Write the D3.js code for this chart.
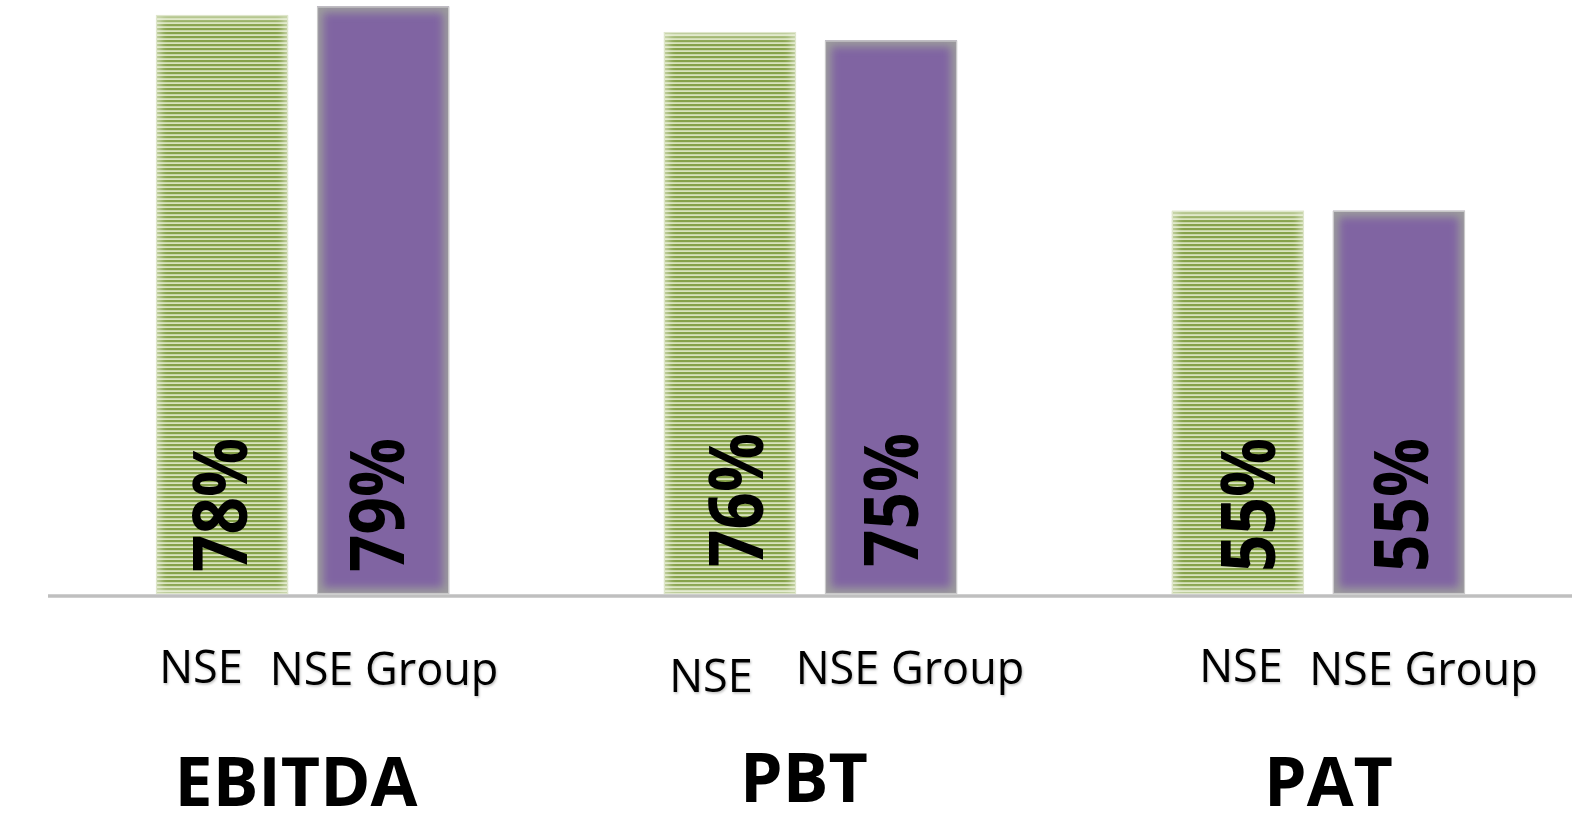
<!DOCTYPE html>
<html>
<head>
<meta charset="utf-8">
<script src="https://cdn.jsdelivr.net/npm/d3@7/dist/d3.min.js"></script>
<style>
  html, body { margin: 0; padding: 0; background: #ffffff; }
  svg { display: block; }
</style>
</head>
<body>
<svg id="chart" width="1589" height="827"></svg>
<script>
// ---------------- data ----------------
const categories = ["EBITDA", "PBT", "PAT"];
const seriesNames = ["NSE", "NSE Group"];
const nseValues = [78, 76, 55];
const nseGroupValues = [79, 75, 55];
const valueLabels = [["78%", "79%"], ["76%", "75%"], ["55%", "55%"]];

// ---------------- layout (not data) ----------------
const W = 1589, H = 827;
const baselineY = 594;
// per-label nudges relative to bar / group centre (the source placed them by hand)
const valueLabelDx = [[25, 20.5], [33.5, 27], [37, 29]];
const valueLabelY  = [[572, 572], [567, 567], [572, 572]];
const seriesLabelDx = [[-21, 1], [-19, 19], [3, 24.5]];
const seriesLabelY  = [[683, 685], [692, 684], [682, 685]];
const catLabelDx = [-6.5, -6.5, 10];
const catLabelY  = [806, 802, 806];

const svg = d3.select("#chart");
const defs = svg.append("defs");

// green horizontal stripe pattern
const pat = defs.append("pattern")
  .attr("id", "stripes").attr("patternUnits", "userSpaceOnUse")
  .attr("width", 8).attr("height", 4);
pat.append("rect").attr("width", 8).attr("height", 4).attr("fill", "#d9e3bd");
pat.append("rect").attr("y", 0).attr("width", 8).attr("height", 2.2).attr("fill", "#86a24a");

const blur = defs.append("filter").attr("id", "glowBlur")
  .attr("x", "-20%").attr("y", "-20%").attr("width", "140%").attr("height", "140%");
blur.append("feGaussianBlur").attr("stdDeviation", 4);

const txtShadow = defs.append("filter").attr("id", "txtShadow")
  .attr("x", "-10%").attr("y", "-20%").attr("width", "120%").attr("height", "150%");
txtShadow.append("feDropShadow").attr("dx", 1).attr("dy", 1.5).attr("stdDeviation", 1.2)
  .attr("flood-color", "#000").attr("flood-opacity", 0.25);

// ---------------- scales ----------------
const x0 = d3.scaleBand().domain(categories).range([156, 1465])
  .paddingInner(0.423).paddingOuter(0);
const x1 = d3.scaleBand().domain(seriesNames).range([0, x0.bandwidth()])
  .paddingInner(0.18).paddingOuter(0);
const y = d3.scaleLinear().domain([10, 80]).range([baselineY, -2]);

const rows = categories.map((c, i) => ({
  cat: c, i,
  bars: [
    { s: seriesNames[0], v: nseValues[i], label: valueLabels[i][0], j: 0 },
    { s: seriesNames[1], v: nseGroupValues[i], label: valueLabels[i][1], j: 1 }
  ]
}));

const fills = ["url(#stripes)", "#8064a2"];
const glowColors = ["#f0f4e4", "#9c9c9c"];
const borderColors = ["#dfe6cc", "#c9c9c9"];

const groups = svg.selectAll("g.grp").data(rows).join("g")
  .attr("class", "grp")
  .attr("transform", d => `translate(${x0(d.cat)},0)`);

groups.each(function(row) {
  const g = d3.select(this);
  row.bars.forEach(b => {
    const bx = x1(b.s), by = y(b.v), bw = x1.bandwidth(), bh = baselineY - y(b.v);
    const cid = `clip-${row.i}-${b.j}`;
    defs.append("clipPath").attr("id", cid)
      .append("rect").attr("x", x0(row.cat) + bx).attr("y", by).attr("width", bw).attr("height", bh);
    g.append("rect").attr("x", bx).attr("y", by).attr("width", bw).attr("height", bh)
      .attr("fill", fills[b.j]);
    // inner soft glow along the edges
    svg.append("g").attr("clip-path", `url(#${cid})`)
      .append("rect")
      .attr("x", x0(row.cat) + bx).attr("y", by).attr("width", bw).attr("height", bh)
      .attr("fill", "none").attr("stroke", glowColors[b.j])
      .attr("stroke-width", b.j === 0 ? 6 : 12)
      .attr("filter", "url(#glowBlur)");
    svg.append("rect")
      .attr("x", x0(row.cat) + bx + 0.5).attr("y", by + 0.5).attr("width", bw - 1).attr("height", bh - 1)
      .attr("fill", "none").attr("stroke", borderColors[b.j]).attr("stroke-width", 1.2);
  });
});

// baseline axis line
svg.append("line")
  .attr("x1", 48).attr("x2", 1572)
  .attr("y1", baselineY + 2).attr("y2", baselineY + 2)
  .attr("stroke", "#bfbfbf").attr("stroke-width", 3.5);

// rotated value labels
rows.forEach(row => {
  row.bars.forEach(b => {
    const cx = x0(row.cat) + x1(b.s) + x1.bandwidth() / 2 + valueLabelDx[row.i][b.j];
    const ly = valueLabelY[row.i][b.j];
    svg.append("text")
      .attr("transform", `translate(${cx},${ly}) rotate(-90)`)
      .attr("text-anchor", "start")
      .attr("font-family", "'Open Sans', 'Liberation Sans', sans-serif")
      .attr("font-weight", 700)
      .attr("font-size", 76)
      .attr("textLength", 134)
      .attr("lengthAdjust", "spacingAndGlyphs")
      .attr("fill", "#000")
      .text(b.label);
  });
});

// series labels under the bars
rows.forEach(row => {
  row.bars.forEach(b => {
    const cx = x0(row.cat) + x1(b.s) + x1.bandwidth() / 2 + seriesLabelDx[row.i][b.j];
    svg.append("text")
      .attr("x", cx).attr("y", seriesLabelY[row.i][b.j])
      .attr("text-anchor", "middle")
      .attr("font-family", "'Open Sans', 'Liberation Sans', sans-serif")
      .attr("font-size", 45)
      .attr("fill", "#000")
      .attr("filter", "url(#txtShadow)")
      .text(b.s);
  });
});

// category labels
rows.forEach(row => {
  svg.append("text")
    .attr("x", x0(row.cat) + x0.bandwidth() / 2 + catLabelDx[row.i])
    .attr("y", catLabelY[row.i])
    .attr("text-anchor", "middle")
    .attr("font-family", "'Open Sans', 'Liberation Sans', sans-serif")
    .attr("font-weight", 700)
    .attr("font-size", 68)
    .attr("fill", "#000")
    .text(row.cat);
});
</script>
</body>
</html>
